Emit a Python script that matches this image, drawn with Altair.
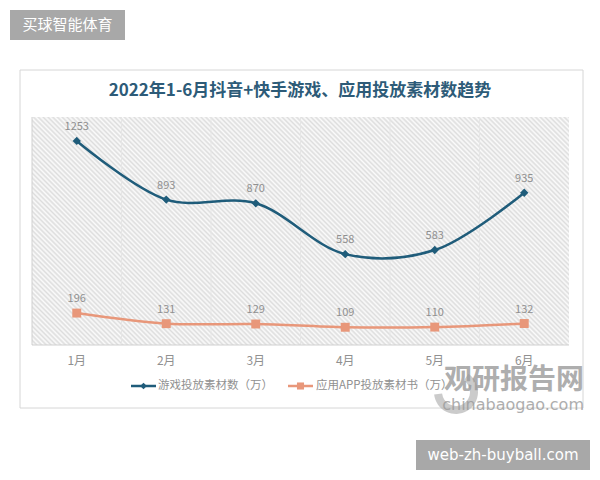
import altair as alt
import pandas as pd

months = ["1月", "2月", "3月", "4月", "5月", "6月"]
month_idx = [1, 2, 3, 4, 5, 6]
game = [1253, 893, 870, 558, 583, 935]
app = [196, 131, 129, 109, 110, 132]
series_names = ["游戏投放素材数（万）", "应用APP投放素材书（万）"]
title_text = "2022年1-6月抖音+快手游戏、应用投放素材数趋势"
brand_text = "买球智能体育"
site_text = "web-zh-buyball.com"
wm_cn = "观研报告网"
wm_en = "chinabaogao.com"
bounds = [1.5, 2.5, 3.5, 4.5, 5.5]

BLUE = "#1f5c7a"
ORANGE = "#e8977a"
GRAY = "#909090"
FONT = "Noto Sans CJK SC"

df = pd.DataFrame({"m": months, "i": month_idx, "game": game, "app": app})
one = alt.Data(values=[{"a": 1}])

xs = alt.Scale(domain=[0.5, 6.5], range=[32, 569])
ys = alt.Scale(domain=[0, 1400], range=[345, 117])


def X(f="i:Q"):
    return alt.X(f, scale=xs, axis=None)


def Y(f):
    return alt.Y(f, scale=ys, axis=None)


# diagonal hatch for the plot background (style only)
PW, PH = 537.0, 228.0
n_stripes = 160
stops = []
for k in range(n_stripes + 1):
    stops.append(alt.GradientStop(offset=min(k / n_stripes, 1.0), color="#dddddd"))
    if k < n_stripes:
        stops.append(alt.GradientStop(offset=(k + 0.5) / n_stripes, color="#fbfbfb"))
vx, vy = 1.0, -PH / PW
scale_len = (1 + PH / PW) / (vx * vx + vy * vy)
hatch = alt.Gradient(gradient="linear", stops=stops,
                     x1=0, y1=1, x2=vx * scale_len, y2=1 + vy * scale_len)

frame = alt.Chart(one).mark_rect(fill="white", stroke="#d6d6d6", strokeWidth=1).encode(
    x=alt.value(20), x2=alt.value(583), y=alt.value(70), y2=alt.value(408))

plotbg = alt.Chart(one).mark_rect(fill=hatch).encode(
    x=alt.value(32), x2=alt.value(569), y=alt.value(117), y2=alt.value(345))

grid = alt.Chart(pd.DataFrame({"g": bounds})).mark_rule(color="#e6e6e6", strokeWidth=1).encode(
    x=X("g:Q"), y=alt.value(117), y2=alt.value(345))

axes = alt.Chart(one).mark_rule(color="#d0d0d0", strokeWidth=1).encode(
    x=alt.value(32), x2=alt.value(569), y=alt.value(345))
leftline = alt.Chart(one).mark_rule(color="#d0d0d0", strokeWidth=1).encode(
    x=alt.value(32), y=alt.value(117), y2=alt.value(345))

base = alt.Chart(df)

gline = base.mark_line(color=BLUE, strokeWidth=2.5, interpolate="catmull-rom").encode(x=X(), y=Y("game:Q"))
gpts = base.mark_point(shape="diamond", filled=True, color=BLUE, size=70, opacity=1).encode(x=X(), y=Y("game:Q"))
glab = base.mark_text(color=GRAY, fontSize=11, font=FONT, baseline="bottom", dy=-9).encode(
    x=X(), y=Y("game:Q"), text="game:Q")

aline = base.mark_line(color=ORANGE, strokeWidth=2.5, interpolate="catmull-rom").encode(x=X(), y=Y("app:Q"))
apts = base.mark_point(shape="square", filled=True, color=ORANGE, size=80, opacity=1).encode(x=X(), y=Y("app:Q"))
alab = base.mark_text(color=GRAY, fontSize=11, font=FONT, baseline="bottom", dy=-9).encode(
    x=X(), y=Y("app:Q"), text="app:Q")

xlab = base.mark_text(color=GRAY, fontSize=12, font=FONT, baseline="middle").encode(
    x=X(), y=alt.value(361), text="m:N")

title = alt.Chart(one).mark_text(text=title_text, fontSize=17, fontWeight="bold", font=FONT,
                                 color="#2d5b78", align="center", baseline="middle").encode(
    x=alt.value(300), y=alt.value(91))

# legend
leg1_line = alt.Chart(one).mark_rule(color=BLUE, strokeWidth=2.5).encode(
    x=alt.value(131), x2=alt.value(156), y=alt.value(386))
leg1_pt = alt.Chart(one).mark_point(shape="diamond", filled=True, color=BLUE, size=45, opacity=1).encode(
    x=alt.value(143.5), y=alt.value(386))
leg1_txt = alt.Chart(one).mark_text(text=series_names[0], fontSize=11.5, font=FONT, color=GRAY,
                                    align="left", baseline="middle").encode(x=alt.value(158), y=alt.value(386))
leg2_line = alt.Chart(one).mark_rule(color=ORANGE, strokeWidth=2.5).encode(
    x=alt.value(288), x2=alt.value(313), y=alt.value(386))
leg2_pt = alt.Chart(one).mark_point(shape="square", filled=True, color=ORANGE, size=50, opacity=1).encode(
    x=alt.value(300.5), y=alt.value(386))
leg2_txt = alt.Chart(one).mark_text(text=series_names[1], fontSize=11.5, font=FONT, color=GRAY,
                                    align="left", baseline="middle").encode(x=alt.value(316), y=alt.value(386))

# watermark
wm_logo = alt.Chart(one).mark_arc(radius=22, radius2=14, theta=0.6, theta2=4.6, color="#b5b5b5", opacity=0.7).encode(
    x=alt.value(456), y=alt.value(392))
wm1 = alt.Chart(one).mark_text(text=wm_cn, fontSize=28, fontWeight="bold", font=FONT, color="#9a9a9a",
                               opacity=0.8, align="right", baseline="middle").encode(x=alt.value(584), y=alt.value(381))
wm2 = alt.Chart(one).mark_text(text=wm_en, fontSize=16, font="DejaVu Sans", color="#9a9a9a",
                               opacity=0.8, align="right", baseline="middle").encode(x=alt.value(584), y=alt.value(405))

# corner tags
tag1_bg = alt.Chart(one).mark_rect(fill="#a8a8a8").encode(
    x=alt.value(10), x2=alt.value(125), y=alt.value(10), y2=alt.value(40))
tag1_tx = alt.Chart(one).mark_text(text=brand_text, fontSize=15, font=FONT, color="white",
                                   align="center", baseline="middle").encode(x=alt.value(67.5), y=alt.value(25))
tag2_bg = alt.Chart(one).mark_rect(fill="#a8a8a8").encode(
    x=alt.value(416), x2=alt.value(590), y=alt.value(440), y2=alt.value(470))
tag2_tx = alt.Chart(one).mark_text(text=site_text, fontSize=15, font="DejaVu Sans", color="white",
                                   align="center", baseline="middle").encode(x=alt.value(503), y=alt.value(455))

chart = alt.layer(
    frame, plotbg, grid, axes, leftline,
    gline, gpts, glab, aline, apts, alab, xlab, title,
    leg1_line, leg1_pt, leg1_txt, leg2_line, leg2_pt, leg2_txt,
    wm_logo, wm1, wm2, tag1_bg, tag1_tx, tag2_bg, tag2_tx,
).properties(
    width=600, height=480, padding=0,
    autosize=alt.AutoSizeParams(type="none"),
    background="white",
).configure_view(stroke=None)

chart.save("out.html", embed_options={"renderer": "svg", "actions": False})
